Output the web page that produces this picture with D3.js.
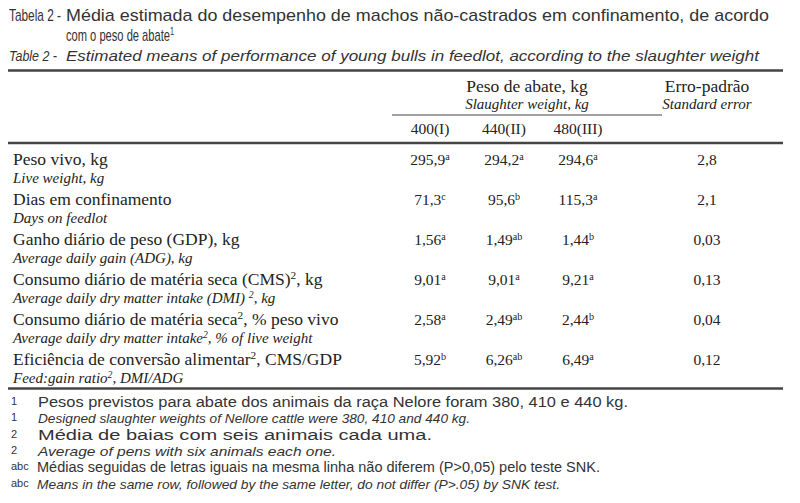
<!DOCTYPE html>
<html><head><meta charset="utf-8">
<script src="https://cdn.jsdelivr.net/npm/d3@7"></script>
<style>body{margin:0;background:#fff}</style></head>
<body><div id="chart"></div>
<script>
// table content
var columns = ["400 (I)", "440 (II)", "480 (III)"];
var rowLabels = ["Peso vivo, kg", "Dias em confinamento", "Ganho diário de peso (GDP), kg",
  "Consumo diário de matéria seca (CMS)|2|, kg", "Consumo diário de matéria seca|2|, % peso vivo",
  "Eficiência de conversão alimentar|2|, CMS/GDP"];
var rowLabelsEn = ["Live weight, kg", "Days on feedlot", "Average daily gain (ADG), kg",
  "Average daily dry matter intake (DMI) |2|, kg", "Average daily dry matter intake|2|, % of live weight",
  "Feed:gain ratio|2|, DMI/ADG"];
var means = [["295,9", "294,2", "294,6"], ["71,3", "95,6", "115,3"], ["1,56", "1,49", "1,44"],
  ["9,01", "9,01", "9,21"], ["2,58", "2,49", "2,44"], ["5,92", "6,26", "6,49"]];
var letters = [["a", "a", "a"], ["c", "b", "a"], ["a", "ab", "b"],
  ["a", "a", "a"], ["a", "ab", "b"], ["b", "ab", "a"]];
var stdErr = ["2,8", "2,1", "0,03", "0,13", "0,04", "0,12"];
var footnotes = [["1", "Pesos previstos para abate dos animais da raça Nelore foram 380, 410 e 440 kg.", false, 590],
  ["1", "Designed slaughter weights of Nellore cattle were 380, 410 and 440 kg.", true, 432],
  ["2", "Média de baias com seis animais cada uma.", false, 394],
  ["2", "Average of pens with six animals each one.", true, 298],
  ["abc", "Médias seguidas de letras iguais na mesma linha não diferem (P>0,05) pelo teste SNK.", false, 563],
  ["abc", "Means in the same row, followed by the same letter, do not differ (P>.05) by SNK test.", true, 523]];

var W = 800, H = 503;
var svg = d3.select("#chart").append("svg").attr("width", W).attr("height", H);
var sans = "'Liberation Sans', Arial, sans-serif", serif = "'Liberation Serif', 'Times New Roman', serif";

var x = d3.scalePoint().domain(columns).range([430, 578]);
var y = d3.scaleBand().domain(d3.range(rowLabels.length)).range([147, 387]);

// text with |sup| markup
function rich(sel, str) {
  str.split("|").forEach(function(part, i) {
    var t = sel.append("tspan").text(part);
    if (i % 2 === 1) t.attr("baseline-shift", "super").attr("font-size", "0.65em");
  });
}

function line(x1, x2, yy, w) {
  svg.append("line").attr("x1", x1).attr("x2", x2).attr("y1", yy).attr("y2", yy)
    .attr("stroke", "#444").attr("stroke-width", w);
}

// titles (condensed look via glyph squeezing)
var tt = svg.append("g").attr("font-family", sans).attr("fill", "#333");
tt.append("text").attr("x", 9).attr("y", 21).attr("font-size", 17).attr("textLength", 52)
  .attr("lengthAdjust", "spacingAndGlyphs").text("Tabela 2 -");
tt.append("text").attr("x", 66).attr("y", 21).attr("font-size", 17).attr("textLength", 703)
  .attr("lengthAdjust", "spacingAndGlyphs")
  .text("Média estimada do desempenho de machos não-castrados em confinamento, de acordo");
var t2 = tt.append("text").attr("x", 66).attr("y", 41).attr("font-size", 17).attr("textLength", 108)
  .attr("lengthAdjust", "spacingAndGlyphs");
rich(t2, "com o peso de abate|1|");
tt.append("text").attr("x", 9).attr("y", 61).attr("font-size", 15).attr("font-style", "italic")
  .attr("textLength", 48).attr("lengthAdjust", "spacingAndGlyphs").text("Table 2 -");
tt.append("text").attr("x", 66).attr("y", 61).attr("font-size", 15).attr("font-style", "italic")
  .attr("textLength", 693).attr("lengthAdjust", "spacingAndGlyphs")
  .text("Estimated means of performance of young bulls in feedlot, according to the slaughter weight");

line(8, 783, 70.5, 2.5);
line(392, 662, 115, 1.2);
line(8, 783, 143, 2.5);
line(8, 783, 388.5, 2.5);

var hd = svg.append("g").attr("font-family", serif).attr("fill", "#222").attr("text-anchor", "middle");
hd.append("text").attr("x", 527).attr("y", 92).attr("font-size", 17.5).text("Peso de abate, kg");
hd.append("text").attr("x", 527).attr("y", 109).attr("font-size", 15).attr("font-style", "italic").text("Slaughter weight, kg");
hd.append("text").attr("x", 707).attr("y", 92).attr("font-size", 17.5).text("Erro-padrão");
hd.append("text").attr("x", 707).attr("y", 109).attr("font-size", 15).attr("font-style", "italic").text("Standard error");
hd.selectAll(".col").data(columns).join("text").attr("x", function(d) { return x(d); })
  .attr("y", 134).attr("font-size", 15.5).text(function(d) { return d.replace(" ", ""); });

// rows
var rows = svg.selectAll(".row").data(rowLabels).join("g")
  .attr("transform", function(d, i) { return "translate(0," + y(i) + ")"; })
  .attr("font-family", serif).attr("fill", "#222");
rows.each(function(d, i) {
  var g = d3.select(this);
  rich(g.append("text").attr("x", 13).attr("y", 18).attr("font-size", 17.5), d);
  rich(g.append("text").attr("x", 13).attr("y", 36).attr("font-size", 15).attr("font-style", "italic"), rowLabelsEn[i]);
  columns.forEach(function(c, j) {
    rich(g.append("text").attr("x", x(c)).attr("y", 18).attr("font-size", 15.5).attr("text-anchor", "middle"),
      means[i][j] + "|" + letters[i][j] + "|");
  });
  g.append("text").attr("x", 707).attr("y", 18).attr("font-size", 15.5).attr("text-anchor", "middle").text(stdErr[i]);
});

// footnotes
var fn = svg.selectAll(".fn").data(footnotes).join("g").attr("font-family", sans).attr("fill", "#333")
  .attr("transform", function(d, i) { return "translate(0," + (405 + i * 16.3) + ")"; });
fn.append("text").attr("x", 11).attr("y", 0).attr("font-size", 11).text(function(d) { return d[0]; });
fn.append("text").attr("x", function(d) { return d[0] === "abc" ? 37 : 38; }).attr("y", 2)
  .attr("font-size", function(d) { return d[2] ? 13 : 15.5; })
  .attr("font-style", function(d) { return d[2] ? "italic" : null; })
  .attr("textLength", function(d) { return d[3]; }).attr("lengthAdjust", "spacingAndGlyphs")
  .text(function(d) { return d[1]; });
</script></body></html>
